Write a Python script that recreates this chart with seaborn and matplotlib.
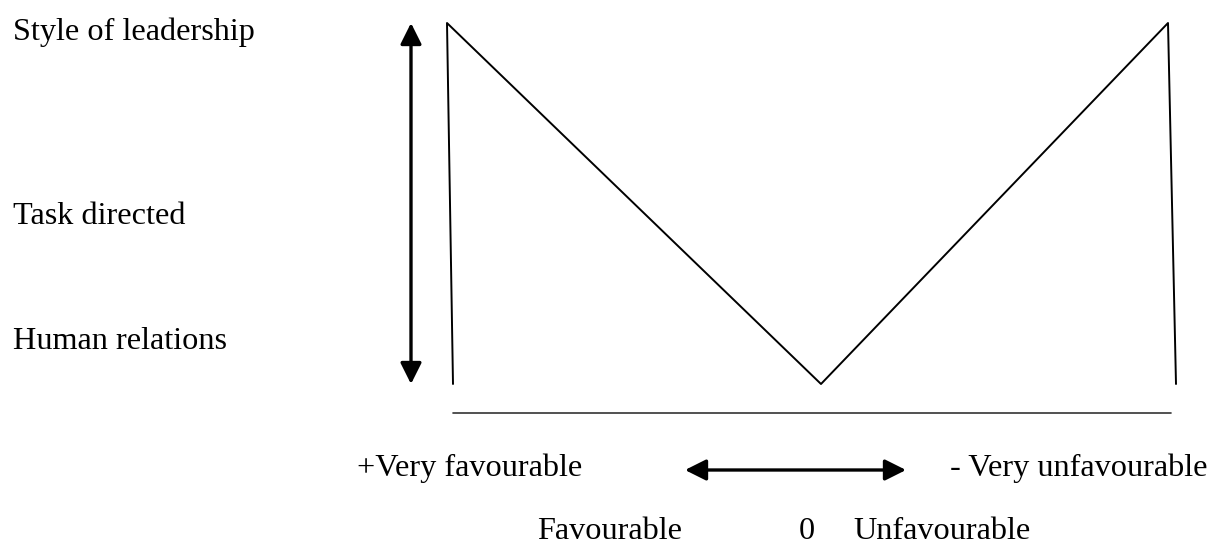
import matplotlib
matplotlib.use("Agg")
import matplotlib.pyplot as plt
import seaborn as sns
import pandas as pd

sns.set_theme(style="white")
plt.rcParams['font.family'] = ['Liberation Serif', 'DejaVu Serif']

# Diagram data (canvas coordinates, y grows downward)
curve_x = [453, 447, 821, 1168, 1176]
curve_y = [384, 23, 384, 23, 384]
baseline_x = [453, 1171]
baseline_y = [413, 413]

y_labels = ["Style of leadership", "Task directed", "Human relations"]
y_label_pos = [40, 224, 349]

top_labels = ["+Very favourable", "- Very unfavourable"]
top_label_x = [357, 950]
bottom_labels = ["Favourable", "0", "Unfavourable"]
bottom_label_x = [537, 799, 853]

fig = plt.figure(figsize=(12.14, 5.44), dpi=100)
ax = fig.add_axes([0, 0, 1, 1])
ax.set_xlim(0, 1214)
ax.set_ylim(544, 0)
ax.axis("off")

df = pd.DataFrame({"x": curve_x, "y": curve_y})
sns.lineplot(data=df, x="x", y="y", sort=False, color="black", lw=1.4, ax=ax)
sns.lineplot(x=baseline_x, y=baseline_y, color="#333333", lw=1.2, ax=ax)

fs = 23.2
for lab, y in zip(y_labels, y_label_pos):
    ax.text(13, y, lab, fontsize=fs, ha="left", va="baseline", color="black")
for lab, x in zip(top_labels, top_label_x):
    ax.text(x, 476, lab, fontsize=fs, ha="left", va="baseline", color="black")
for lab, x in zip(bottom_labels, bottom_label_x):
    ax.text(x, 539, lab, fontsize=fs, ha="left", va="baseline", color="black")

arrow = dict(arrowstyle="<|-|>", color="black", lw=2.4, mutation_scale=32,
             shrinkA=0, shrinkB=0)
ax.annotate("", xy=(411, 23), xytext=(411, 384), arrowprops=arrow)
ax.annotate("", xy=(685, 470), xytext=(906, 470), arrowprops=arrow)

fig.savefig("out.png", dpi=100, facecolor="white")
